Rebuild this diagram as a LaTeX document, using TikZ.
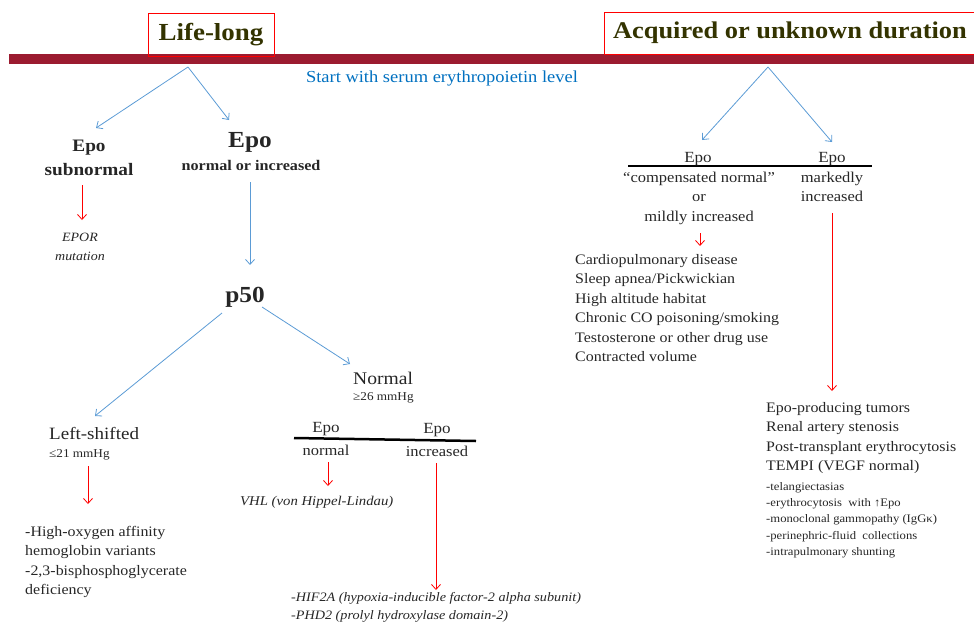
\documentclass[tikz,border=0pt]{standalone}
\usepackage{fontspec}
\setmainfont[FakeStretch=1.1]{Liberation Serif}
\usetikzlibrary{arrows.meta}
\definecolor{barred}{RGB}{155,27,48}
\definecolor{olive}{RGB}{51,51,0}
\definecolor{txt}{RGB}{38,38,38}
\definecolor{bluetxt}{RGB}{0,112,192}
\definecolor{bluearr}{RGB}{91,155,213}
\tikzset{
  title/.style={draw=red,line width=0.8pt,text=olive,font=\bfseries\fontsize{24.5}{28}\selectfont,inner sep=0pt},
  barr/.style={draw=bluearr,line width=0.8pt,-{Straight Barb[length=5pt,width=9pt]}},
  rarr/.style={draw=red,line width=0.8pt,-{Straight Barb[length=5pt,width=9pt]}},
  lbl/.style={text=txt,inner sep=0pt},
  med/.style={lbl,font=\fontsize{14.5}{19.5}\selectfont},
  mid/.style={lbl,font=\fontsize{15}{19.2}\selectfont},
  small/.style={lbl,font=\fontsize{11.5}{16.3}\selectfont},
  rule/.style={line width=2.5pt,draw=black}
}
\begin{document}
\begin{tikzpicture}[x=1pt,y=-1pt]
\useasboundingbox (0,0) rectangle (974,621);
% bar
\fill[barred] (9,54) rectangle (974,64);
% titles
\node[title,minimum width=126pt,minimum height=43pt] (life) at (211,34.5) {Life-long};
\node[title,font=\bfseries\fontsize{24}{28}\selectfont,minimum width=372pt,minimum height=42pt] (acq) at (790,33) {Acquired or unknown duration};
\node[text=bluetxt,font=\fontsize{16.8}{18}\selectfont,inner sep=0pt] (start) at (442,78) {Start with serum erythropoietin level};
% left top branches
\coordinate (lroot) at (188,67);
\coordinate (lleft) at (96,128);
\coordinate (lright) at (229,120);
\draw[barr] (lroot) -- (lleft);
\draw[barr] (lroot) -- (lright);
\node[lbl,font=\bfseries\fontsize{17.5}{24}\selectfont,align=center] (sub) at (89,158) {Epo\\subnormal};
\node[lbl,font=\bfseries\fontsize{23}{24}\selectfont] (epo2) at (250,142) {Epo};
\node[lbl,font=\bfseries\fontsize{14.7}{16}\selectfont] (noi) at (251,165) {normal or increased};
\coordinate (s1) at (82,185); \coordinate (e1) at (82,220);
\draw[rarr] (s1) -- (e1);
\node[lbl,font=\itshape\fontsize{12.7}{19}\selectfont,align=center] (epor) at (80,247) {EPOR\\mutation};
\coordinate (s2) at (250,182); \coordinate (e2) at (250,265);
\draw[barr] (s2) -- (e2);
\node[lbl,font=\bfseries\fontsize{23}{28}\selectfont] (p50) at (245,297) {p50};
\coordinate (s3) at (222,313); \coordinate (e3) at (95,416);
\coordinate (s4) at (262,307); \coordinate (e4) at (350,364);
\draw[barr] (s3) -- (e3);
\draw[barr] (s4) -- (e4);
\node[lbl,font=\fontsize{17.8}{18}\selectfont,anchor=west] (normal) at (353,378) {Normal};
\node[lbl,font=\fontsize{12}{12}\selectfont,anchor=west] (ge26) at (353,398) {≥26 mmHg};
\node[lbl,font=\fontsize{17.3}{18}\selectfont,anchor=west] (lshift) at (49,433) {Left-shifted};
\node[lbl,font=\fontsize{12}{12}\selectfont,anchor=west] (le21) at (49,455) {≤21 mmHg};
% Epo normal / increased split
\coordinate (r1a) at (294,438); \coordinate (r1b) at (476,441);
\draw[rule] (r1a) -- (r1b);
\node[lbl,font=\fontsize{15.5}{15}\selectfont] (epoA) at (326,429) {Epo};
\node[lbl,font=\fontsize{15.5}{15}\selectfont] (epoB) at (437,430) {Epo};
\node[lbl,font=\fontsize{15}{15}\selectfont] (normA) at (326,450) {normal};
\node[lbl,font=\fontsize{15}{15}\selectfont] (incB) at (437,451) {increased};
\coordinate (s5) at (88,466); \coordinate (e5) at (88,504);
\draw[rarr] (s5) -- (e5);
\node[med,align=left,anchor=north west] (hox) at (25,526) {-High-oxygen affinity\\hemoglobin variants\\-2,3-bisphosphoglycerate\\deficiency};
\coordinate (s6) at (328,462); \coordinate (e6) at (328,486);
\draw[rarr] (s6) -- (e6);
\node[lbl,font=\itshape\fontsize{13.4}{15}\selectfont,anchor=west] (vhl) at (240,502) {VHL (von Hippel-Lindau)};
\coordinate (s7) at (436,463); \coordinate (e7) at (436,590);
\draw[rarr] (s7) -- (e7);
\node[lbl,font=\itshape\fontsize{12.9}{18}\selectfont,align=left,anchor=north west] (hif) at (291,592) {-HIF2A (hypoxia-inducible factor-2 alpha subunit)\\-PHD2 (prolyl hydroxylase domain-2)};
% right side
\coordinate (rroot) at (768,67);
\coordinate (rl) at (702,140);
\coordinate (rr) at (832,142);
\draw[barr] (rroot) -- (rl);
\draw[barr] (rroot) -- (rr);
\coordinate (r2a) at (628,166); \coordinate (r2b) at (872,166);
\draw[rule] (r2a) -- (r2b);
\node[lbl,font=\fontsize{15.5}{15}\selectfont] (epoC) at (698,159) {Epo};
\node[lbl,font=\fontsize{15.5}{15}\selectfont] (epoD) at (832,159) {Epo};
\node[mid,align=center,anchor=north] (comp) at (699,172) {“compensated normal”\\or\\mildly increased};
\node[mid,align=center,anchor=north] (mark) at (832,172) {markedly\\increased};
\coordinate (s8) at (700,233); \coordinate (e8) at (700,246);
\draw[rarr] (s8) -- (e8);
\node[med,align=left,anchor=north west] (causes) at (575,254) {Cardiopulmonary disease\\Sleep apnea/Pickwickian\\High altitude habitat\\Chronic CO poisoning/smoking\\Testosterone or other drug use\\Contracted volume};
\coordinate (s9) at (832,213); \coordinate (e9) at (832,391);
\draw[rarr] (s9) -- (e9);
\node[med,align=left,anchor=north west] (tumors) at (766,402) {Epo-producing tumors\\Renal artery stenosis\\Post-transplant erythrocytosis\\TEMPI (VEGF normal)};
\node[small,align=left,anchor=north west] (tempi) at (766,482) {-telangiectasias\\-erythrocytosis\ \ with ↑Epo\\-monoclonal gammopathy (IgGκ)\\-perinephric-fluid\ \ collections\\-intrapulmonary shunting};
\end{tikzpicture}
\end{document}
